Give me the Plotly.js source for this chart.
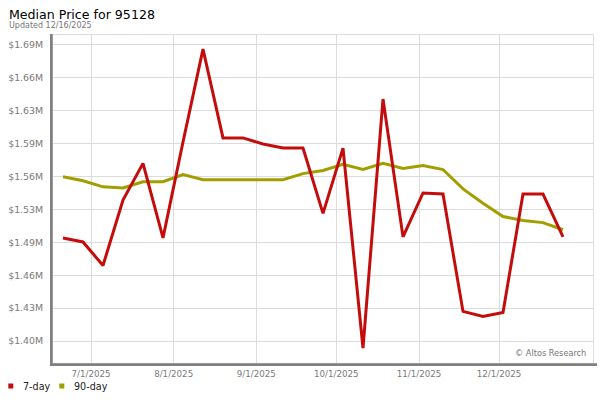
<!DOCTYPE html>
<html>
<head>
<meta charset="utf-8">
<script src="https://cdn.plot.ly/plotly-3.0.1.min.js"></script>
<style>html,body{margin:0;padding:0;background:#fff;}#chart{width:600px;height:400px;}</style>
</head>
<body>
<div id="chart"></div>
<script>
// Week positions as drawn on the reference chart
var dates = ['2025-06-20 12:00','2025-06-28','2025-07-05 12:00','2025-07-13','2025-07-20 12:00','2025-07-28',
  '2025-08-04 12:00','2025-08-12','2025-08-19 12:00','2025-08-27','2025-09-03 12:00','2025-09-11',
  '2025-09-18 12:00','2025-09-26','2025-10-03 12:00','2025-10-11','2025-10-18 12:00','2025-10-26',
  '2025-11-02 12:00','2025-11-10','2025-11-17 12:00','2025-11-25','2025-12-02 12:00','2025-12-10',
  '2025-12-17 12:00','2025-12-25'];

var price7day = [1501000, 1497000, 1474000, 1538000, 1574000, 1501000, 1595000, 1686000, 1599000, 1599000,
  1593000, 1589000, 1589000, 1525000, 1589000, 1393000, 1637000, 1502000, 1545000, 1544000,
  1429000, 1424000, 1428000, 1544000, 1544000, 1502000];

var price90day = [1561000, 1557000, 1551000, 1550000, 1556000, 1556000, 1563000, 1558000, 1558000, 1558000,
  1558000, 1558000, 1564000, 1567000, 1573000, 1568000, 1574000, 1569000, 1572000, 1568000,
  1549000, 1535000, 1522000, 1518000, 1516000, 1509000];

var xTickVals = ['2025-07-01','2025-08-01','2025-09-01','2025-10-01','2025-11-01','2025-12-01'];
var xTickText = ['7/1/2025','8/1/2025','9/1/2025','10/1/2025','11/1/2025','12/1/2025'];

var yTickVals = [1400000, 1432222, 1464444, 1496667, 1528889, 1561111, 1593333, 1625556, 1657778, 1690000];
var yTickText = ['$1.40M','$1.43M','$1.46M','$1.49M','$1.53M','$1.56M','$1.59M','$1.63M','$1.66M','$1.69M'];

var seriesNames = ['7-day', '90-day'];

var RED = '#c30d0d', OLIVE = '#a39e00';
var FONT = 'DejaVu Sans, Verdana, sans-serif';

var traces = [
  {x: dates, y: price90day, mode: 'lines', line: {color: OLIVE, width: 3}, showlegend: false, name: seriesNames[1]},
  {x: dates, y: price7day, mode: 'lines', line: {color: RED, width: 3}, showlegend: false, name: seriesNames[0]}
];

// plot area: x 53..593, y 35..363
var W = 540, H = 328;
function px(x) { return (x - 53) / W; }
function py(y) { return (363 - y) / H; }

var layout = {
  width: 600, height: 400,
  margin: {l: 53, r: 7, t: 35, b: 37},
  paper_bgcolor: '#fff', plot_bgcolor: '#fff',
  font: {family: FONT, color: '#7a7a7a'},
  showlegend: false,
  xaxis: {type: 'date', range: ['2025-06-16 18:00', '2026-01-05 06:00'],
    tickvals: xTickVals, ticktext: xTickText, tickfont: {size: 8.7, color: '#7a7a7a'},
    showgrid: true, gridcolor: '#dcdcdc', gridwidth: 1, zeroline: false,
    showline: true, linecolor: '#dcdcdc', linewidth: 1, mirror: true, ticks: '', ticklabelstandoff: 3},
  yaxis: {range: [1378450, 1699790], tickvals: yTickVals, ticktext: yTickText,
    tickfont: {size: 9.4, color: '#7a7a7a'},
    showgrid: true, gridcolor: '#dcdcdc', gridwidth: 1, zeroline: false,
    showline: true, linecolor: '#dcdcdc', linewidth: 1, mirror: true, ticks: '', ticklabelstandoff: 7},
  shapes: [
    {type: 'rect', xref: 'paper', yref: 'paper', x0: -3/W, x1: -0.3/W, y0: -3/H, y1: 1 + 1/H,
      fillcolor: '#808080', line: {width: 0}, layer: 'above'},
    {type: 'rect', xref: 'paper', yref: 'paper', x0: -3/W, x1: 1 + 4/W, y0: -3/H, y1: -0.3/H,
      fillcolor: '#808080', line: {width: 0}, layer: 'above'},
    // legend swatches
    {type: 'rect', xref: 'paper', yref: 'paper', x0: px(8.3), x1: px(13.3), y0: py(388.5), y1: py(383.5),
      fillcolor: RED, line: {width: 0}},
    {type: 'rect', xref: 'paper', yref: 'paper', x0: px(59.3), x1: px(64.3), y0: py(388.5), y1: py(383.5),
      fillcolor: OLIVE, line: {width: 0}}
  ],
  annotations: [
    {text: 'Median Price for 95128', xref: 'paper', yref: 'paper', x: px(6.5), xanchor: 'left',
      y: py(14), yanchor: 'middle', showarrow: false, font: {family: FONT, size: 12.6, color: '#000'}},
    {text: 'Updated 12/16/2025', xref: 'paper', yref: 'paper', x: px(6.5), xanchor: 'left',
      y: py(25.5), yanchor: 'middle', showarrow: false, font: {family: FONT, size: 8, color: '#777'}},
    {text: '© Altos Research', xref: 'paper', yref: 'paper', x: px(588), xanchor: 'right',
      y: py(353), yanchor: 'middle', showarrow: false, font: {family: FONT, size: 8.2, color: '#777'}},
    {text: seriesNames[0], xref: 'paper', yref: 'paper', x: px(20.5), xanchor: 'left',
      y: py(386), yanchor: 'middle', showarrow: false, font: {family: FONT, size: 9.6, color: '#222'}},
    {text: seriesNames[1], xref: 'paper', yref: 'paper', x: px(71.5), xanchor: 'left',
      y: py(386), yanchor: 'middle', showarrow: false, font: {family: FONT, size: 9.6, color: '#222'}}
  ]
};

Plotly.newPlot('chart', traces, layout, {staticPlot: true, displayModeBar: false});
</script>
</body>
</html>
